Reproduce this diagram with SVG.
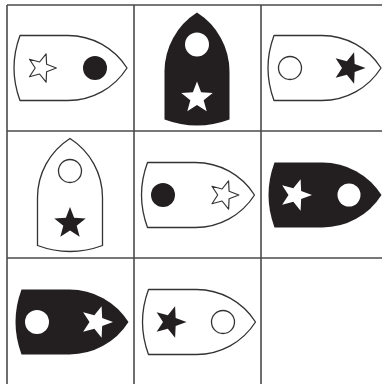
<svg xmlns="http://www.w3.org/2000/svg" xmlns:xlink="http://www.w3.org/1999/xlink" width="382" height="384" viewBox="0 0 382 384">
<style>
.grid{stroke:#4a4a4a;stroke-width:1.6;fill:none}
.sw{fill:#fff;stroke:#333;stroke-width:1.3;stroke-linejoin:round}
.sb{fill:#231f20;stroke:none}
.dk{fill:#231f20;stroke:none}
.op{fill:#fff;stroke:#333;stroke-width:1.3;stroke-linejoin:round}
.wh{fill:#fff;stroke:none}
</style>
<defs>
<path id="shield" d="M -32.5,50.5 L -32.5,2.6 A 70 70 0 0 1 0,-56.5 A 70 70 0 0 1 32.5,2.6 L 32.5,50.5 Q 0,62.5 -32.5,50.5 Z"/>
<polygon id="star" points="0,-16.5 4.11,-5.66 15.69,-5.1 6.66,2.16 9.7,13.35 0,7 -9.7,13.35 -6.66,2.16 -15.69,-5.1 -4.11,-5.66"/>
</defs>
<rect width="382" height="384" fill="#fff"/>
<g id="grid" class="grid">
<line x1="7" y1="5" x2="382" y2="5"/>
<line x1="7" y1="131" x2="382" y2="131"/>
<line x1="7" y1="258" x2="382" y2="258"/>
<line x1="7" y1="5" x2="7" y2="384"/>
<line x1="134" y1="5" x2="134" y2="384"/>
<line x1="261" y1="5" x2="261" y2="384"/>
</g>
<g id="connectors"/>
<g id="r1c1" transform="translate(70.5,68) rotate(90)">
<use xlink:href="#shield" class="sw"/>
<circle cx="0" cy="-24.5" r="12" class="dk"/>
<use xlink:href="#star" class="op" transform="translate(0,29) scale(0.9)"/>
</g>
<g id="r1c2" transform="translate(197,69)">
<use xlink:href="#shield" class="sb"/>
<circle cx="0" cy="-24.5" r="12" class="wh"/>
<use xlink:href="#star" class="wh" transform="translate(0,29)"/>
</g>
<g id="r1c3" transform="translate(324.5,68) rotate(90)">
<use xlink:href="#shield" class="sw"/>
<use xlink:href="#star" class="dk" transform="translate(0,-24.5)"/>
<circle cx="0" cy="34.5" r="11.5" class="op"/>
</g>
<g id="r2c1" transform="translate(70,195)">
<use xlink:href="#shield" class="sw"/>
<circle cx="0" cy="-24" r="11.5" class="op"/>
<use xlink:href="#star" class="dk" transform="translate(0,28.5)"/>
</g>
<g id="r2c2" transform="translate(198,195) rotate(90)">
<use xlink:href="#shield" class="sw"/>
<use xlink:href="#star" class="op" transform="translate(0,-26) scale(0.9)"/>
<circle cx="0" cy="35" r="12" class="dk"/>
</g>
<g id="r2c3" transform="translate(325,195) rotate(90)">
<use xlink:href="#shield" class="sb"/>
<circle cx="0" cy="-24" r="11.5" class="wh"/>
<use xlink:href="#star" class="wh" transform="translate(0,29.5)"/>
</g>
<g id="r3c1" transform="translate(72,322) rotate(90)">
<use xlink:href="#shield" class="sb"/>
<use xlink:href="#star" class="wh" transform="translate(0,-24.5)"/>
<circle cx="0" cy="35" r="12" class="wh"/>
</g>
<g id="r3c2" transform="translate(199,322) rotate(90)">
<use xlink:href="#shield" class="sw"/>
<circle cx="0" cy="-24" r="11.5" class="op"/>
<use xlink:href="#star" class="dk" transform="translate(0,29)"/>
</g>
</svg>
